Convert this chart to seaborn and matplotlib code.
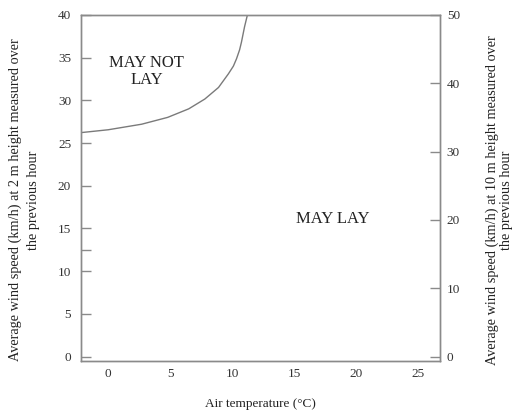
import matplotlib
matplotlib.use("Agg")
import matplotlib.pyplot as plt
import seaborn as sns
import pandas as pd

# boundary curve (air temp vs wind speed at 2 m)
temp_c = [-2.3, 0.0, 2.7, 4.8, 6.5, 7.8, 8.9, 9.7, 10.1, 10.35, 10.6, 10.75, 11.0, 11.25]
wind_2m = [26.2, 26.55, 27.2, 28.0, 29.0, 30.15, 31.5, 33.1, 34.0, 34.85, 35.9, 36.8, 38.6, 40.1]

x_ticks = [0, 5, 10, 15, 20, 25]
y_ticks_2m = [0, 5, 10, 15, 20, 25, 30, 35, 40]
y_minor_2m = [12.5]
y_ticks_10m = [0, 10, 20, 30, 40, 50]
ratio_10m = 1.25  # 10 m wind vs 2 m wind

df = pd.DataFrame({"temp": temp_c, "wind": wind_2m})

sns.set_style("white")
plt.rcParams["font.family"] = ["Liberation Serif", "DejaVu Serif"]

fig = plt.figure(figsize=(5.12, 4.12), dpi=100)
ax = fig.add_axes([0.158, 0.124, 0.701, 0.840])

sns.lineplot(data=df, x="temp", y="wind", ax=ax, color="#7a7a7a", lw=1.0, sort=False)

ax.set_xlim(-2.2, 26.75)
ax.set_ylim(-0.5, 40)
ax.set_xticks(x_ticks)
ax.set_yticks(y_ticks_2m)
ax.set_yticks(y_minor_2m, minor=True)

grey = "#8a8a8a"
for s in ax.spines.values():
    s.set_color(grey)
    s.set_linewidth(1.0)

ax.tick_params(axis="both", which="both", direction="in", length=7, width=1,
               color=grey, labelsize=9.5, labelcolor="#333333")
ax.tick_params(axis="y", pad=7)
ax.tick_params(axis="x", pad=5)

ax.set_xlabel("Air temperature (°C)", fontsize=9.5, color="#222222", labelpad=13)
ax.set_ylabel("Average wind speed (km/h) at 2 m height measured over\nthe previous hour",
              fontsize=10.3, color="#222222", linespacing=1.5, va="center")
ax.yaxis.set_label_coords(-0.158, 0.465)

ax2 = ax.twinx()
ax2.set_ylim(-0.5 * ratio_10m, 40 * ratio_10m)
ax2.set_yticks(y_ticks_10m)
for s in ax2.spines.values():
    s.set_color(grey)
    s.set_linewidth(1.0)
ax2.tick_params(axis="y", direction="in", length=7, width=1, color=grey,
                labelsize=9.5, labelcolor="#333333", pad=5)
ax2.set_ylabel("Average wind speed (km/h) at 10 m height measured over\nthe previous hour",
               fontsize=10.3, color="#222222", linespacing=1.1, rotation=90, va="center")
ax2.yaxis.set_label_coords(1.167, 0.465)

ax.text(3.1, 33.4, "MAY NOT\nLAY", ha="center", va="center", fontsize=12,
        color="#222222", linespacing=1.05)
ax.text(18.1, 16.05, "MAY LAY", ha="center", va="center", fontsize=12, color="#222222")

fig.savefig("out.png", dpi=100)
